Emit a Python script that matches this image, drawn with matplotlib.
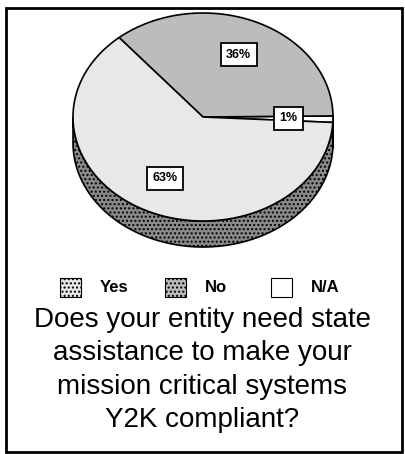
import numpy as np
import matplotlib.pyplot as plt
from matplotlib.patches import Polygon, Rectangle

plt.rcParams['font.family'] = ['Liberation Sans', 'DejaVu Sans']

categories = ["Yes", "No", "N/A"]
values = [63, 36, 1]
pct_labels = ["63%", "36%", "1%"]
face_colors = ["#e8e8e8", "#bcbcbc", "#ffffff"]
side_colors = ["#8a8a8a", "#7a7a7a", "#dddddd"]
question = "Does your entity need state\nassistance to make your\nmission critical systems\nY2K compliant?"

# pie geometry (pixels)
cx, cy, a, b, depth = 203, 117, 130, 104, 26
start_deg = -3.0  # N/A starts just below horizontal

fig = plt.figure(figsize=(4.05, 4.54), dpi=100)
ax = fig.add_axes([0, 0, 1, 1])
ax.set_xlim(0, 405)
ax.set_ylim(454, 0)
ax.axis("off")

def pt(t, r=1.0, dz=0.0):
    return cx + r * a * np.cos(t), cy - r * b * np.sin(t) + dz

# slice angles: N/A, then No counterclockwise, then Yes
order = [2, 1, 0]
angles = {}
t0 = start_deg
for i in order:
    t1 = t0 + values[i] / sum(values) * 360
    angles[i] = (t0, t1)
    t0 = t1

# side wall (front half only)
for i in order:
    t0, t1 = angles[i]
    segs = []
    for s0, s1 in [(t0, t1), (t0 - 360, t1 - 360)]:
        s0c, s1c = max(s0, -180), min(s1, 0)
        if s1c > s0c:
            segs.append((s0c, s1c))
    for s0, s1 in segs:
        tt = np.radians(np.linspace(s0, s1, 120))
        top = np.column_stack(pt(tt))
        bot = np.column_stack(pt(tt[::-1], dz=depth))
        ax.add_patch(Polygon(np.vstack([top, bot]), closed=True,
                             facecolor=side_colors[i], edgecolor="black",
                             linewidth=1.2, hatch="....", zorder=1))

# top faces
for i in order:
    t0, t1 = angles[i]
    tt = np.radians(np.linspace(t0, t1, 200))
    arc = np.column_stack(pt(tt))
    poly = np.vstack([[cx, cy], arc])
    ax.add_patch(Polygon(poly, closed=True, facecolor=face_colors[i],
                         edgecolor="black", linewidth=1.2, zorder=2))

# percent labels
for i in order:
    t0, t1 = angles[i]
    tm = np.radians((t0 + t1) / 2)
    x, y = pt(tm, r=0.66)
    ax.text(x, y, pct_labels[i], ha="center", va="center", fontsize=9,
            fontweight="bold", zorder=4,
            bbox=dict(boxstyle="square,pad=0.45", facecolor="white",
                      edgecolor="black", linewidth=1.3))

# legend
leg_x = [60, 165, 271]
for i, x in enumerate(leg_x):
    ax.add_patch(Rectangle((x, 278), 21, 19, facecolor=face_colors[i],
                           edgecolor="black", linewidth=0.8,
                           hatch="...." if i < 2 else None, zorder=3))
    ax.text(x + 40, 288, categories[i], ha="left", va="center",
            fontsize=12, fontweight="bold")

ax.text(202, 370, question, ha="center", va="center", fontsize=20,
        linespacing=1.37)

# frame
ax.add_patch(Rectangle((6, 8), 396, 444, facecolor="none", edgecolor="black",
                       linewidth=2, zorder=5))

fig.savefig("out.png", dpi=100)
